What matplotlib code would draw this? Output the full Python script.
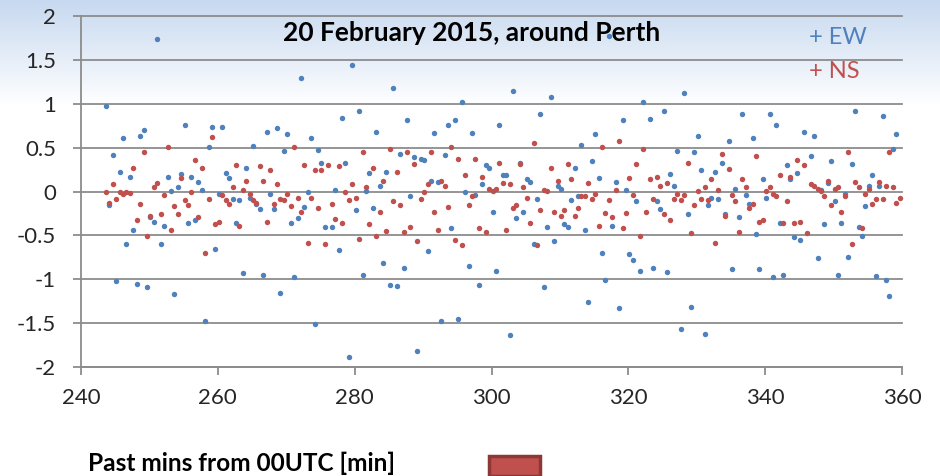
import numpy as np
import matplotlib
matplotlib.use("Agg")
import matplotlib.pyplot as plt
from matplotlib.patches import Rectangle

plt.rcParams["font.family"] = ["Lato", "DejaVu Sans"]
plt.rcParams["axes.unicode_minus"] = False

# Sampling: one reading every 30 s starting a little after 243.5 min past 00 UTC
START_MIN = 243.65
STEP_MIN = 0.5

nan = np.nan

# East-west component
ew = [
    0.975, -0.156, 0.415, -1.025, 0.225, 0.606, -0.6, 0.168, -0.434, -1.05,
    0.636, 0.697, -1.09, -0.29, -0.347, 1.737, -0.6, -0.39, 0.168, 0.004,
    -1.17, 0.05, 0.2, 0.754, -0.36, 0.168, -0.33, 0.107, 0.019, -1.478,
    0.507, 0.739, -0.655, -0.023, 0.739, 0.213, 0.152, -0.084, -0.362, -0.099,
    -0.933, 0.27, -0.069, 0.518, -0.14, -0.198, -0.949, 0.682, -0.023, -0.198,
    0.724, -1.154, 0.461, 0.651, -0.362, -0.975, -0.3, 1.295, -0.171, -0.011,
    0.606, -1.505, 0.476, 0.328, -0.404, nan, -0.404, 0.019, -0.667, 0.842,
    0.328, -1.886, 1.444, -0.213, 0.914, -0.949, 0.004, 0.213, -0.183, 0.682,
    0.065, -0.815, 0.225, -1.067, 1.181, -1.08, 0.43, -0.872, 0.811, -0.053,
    0.389, -1.813, 0.373, 0.358, -0.682, 0.122, 0.667, 0.107, -1.478, 0.415,
    0.754, -0.419, 0.811, -1.448, 1.017, -0.008, -0.846, 0.667, -0.038, -1.067,
    0.08, 0.301, 0.27, -0.229, -0.903, 0.754, 0.183, 0.183, -1.638, 1.15,
    -0.3, 0.328, -0.229, 0.137, 0.107, -0.598, -0.084, 0.888, -1.093, -0.404,
    1.078, -0.568, 0.065, 0.034, -0.373, -0.404, -0.095, 0.27, -0.053, 0.533,
    -0.434, -1.257, 0.343, 0.651, 0.152, -0.70, -1.006, 1.768, -0.389, 0.107,
    -1.33, 0.811, 0.019, -0.712, -0.785, -0.11, -0.903, 1.017, nan, 0.827,
    -0.872, -0.11, -0.198, 0.914, -0.918, 0.198, 0.065, 0.461, -1.566, 1.12,
    -0.259, -1.314, 0.446, 0.636, 0.24, -1.623, -0.156, -0.069, 0.225, -0.084,
    0.328, -0.259, 0.579, -0.888, 0.034, -0.286, 0.884, -0.038, -0.14, 0.606,
    -0.49, -0.888, 0.137, -0.069, 0.884, -0.975, 0.754, -0.362, -0.949, 0.301,
    0.137, -0.522, 0.21, -0.549, 0.682, nan, 0.404, 0.636, -0.758, 0.019,
    -0.373, 0.095, 0.343, -0.11, -0.949, -0.362, -0.023, -0.743, 0.316, 0.914,
    -0.404, -0.507, -0.168, 0.065, 0.183, -0.964, 0.065, 0.857, -1.006, -1.196,
    0.488, 0.651, nan,
]

# North-south component
ns = [
    0.0, -0.126, 0.08, -0.084, -0.008, -0.034, 0.0, -0.02, 0.27, -0.33,
    -0.14, 0.446, -0.51, -0.274, 0.053, 0.095, -0.255, -0.038, 0.507, -0.434,
    -0.168, -0.255, 0.152, -0.095, -0.152, 0.0, 0.358, -0.286, 0.27, -0.70,
    -0.084, 0.621, -0.373, -0.347, -0.038, -0.099, -0.14, 0.05, 0.301, -0.389,
    0.019, 0.122, -0.023, -0.095, -0.126, 0.286, 0.122, -0.347, 0.24, -0.14,
    0.08, -0.084, -0.095, -0.023, -0.168, 0.507, -0.069, -0.229, 0.301, -0.583,
    -0.069, 0.24, -0.183, 0.24, -0.598, 0.301, -0.14, -0.316, 0.286, -0.362,
    -0.011, -0.095, 0.08, -0.069, -0.537, 0.446, 0.05, -0.373, 0.27, -0.51,
    -0.229, 0.122, -0.45, 0.488, -0.11, 0.225, -0.156, -0.461, 0.446, -0.404,
    0.316, -0.568, -0.084, -0.008, 0.08, 0.446, -0.229, -0.434, 0.122, 0.065,
    -0.171, 0.507, -0.549, 0.373, -0.61, 0.183, -0.156, -0.053, 0.373, -0.419,
    0.168, -0.461, 0.034, 0.004, 0.034, 0.328, 0.095, -0.434, 0.08, -0.183,
    -0.156, 0.316, 0.05, -0.069, -0.362, 0.549, -0.61, -0.213, 0.019, 0.004,
    0.27, -0.229, 0.122, -0.274, -0.213, 0.316, 0.137, -0.274, -0.183, -0.053,
    -0.053, 0.095, -0.084, -0.023, -0.389, 0.507, -0.244, -0.095, -0.286, 0.019,
    0.575, -0.419, -0.244, 0.152, -0.038, 0.312, -0.51, 0.488, -0.229, 0.137,
    -0.084, 0.168, 0.065, -0.259, 0.095, -0.33, -0.084, -0.023, -0.095, -0.038,
    0.328, -0.476, -0.156, 0.004, -0.084, 0.05, -0.095, 0.137, -0.583, 0.019,
    0.43, -0.274, 0.255, -0.038, -0.11, -0.465, 0.137, 0.05, -0.183, -0.14,
    0.4, -0.347, -0.33, 0.004, 0.05, -0.023, -0.053, 0.183, -0.362, -0.11,
    0.168, -0.362, 0.358, -0.347, 0.301, -0.476, 0.08, 0.065, 0.034, 0.004,
    -0.053, 0.122, -0.156, 0.034, 0.05, -0.229, -0.053, 0.446, -0.598, 0.107,
    0.05, -0.419, -0.023, 0.034, -0.14, -0.084, 0.107, -0.084, 0.065, 0.446,
    0.05, -0.126, -0.069,
]

x_ticks = [240, 260, 280, 300, 320, 340, 360]
y_ticks = [-2, -1.5, -1, -0.5, 0, 0.5, 1, 1.5, 2]
y_tick_labels = ["-2", "-1.5", "-1", "-0.5", "0", "0.5", "1", "1.5", "2"]

title = "20 February 2015, around Perth"
x_label = "Past mins from 00UTC [min]"

EW_COLOR = "#4f81bd"
NS_COLOR = "#c0504d"
GRID_COLOR = "#8c8c8c"
TEXT_COLOR = "#262626"

W, H = 940, 476
fig = plt.figure(figsize=(W / 100, H / 100), dpi=100)

# soft blue-to-white wash across the top of the chart
bg = fig.add_axes([0, 0, 1, 1], zorder=-10)
rows = np.arange(H)
frac = np.clip(rows / 105.0, 0, 1)[:, None]
top_rgb = np.array([0.78, 0.85, 0.94])
col = top_rgb[None, :] * (1 - frac) + 1.0 * frac
bg.imshow(np.repeat(col[:, None, :], 2, axis=1), aspect="auto",
          extent=[0, 1, 0, 1], origin="upper", interpolation="bilinear")
bg.axis("off")

L, R, T, B = 81, 902, 16, 367
ax = fig.add_axes([L / W, 1 - B / H, (R - L) / W, (B - T) / H])
ax.patch.set_alpha(0)

n = len(ew)
minutes = START_MIN + STEP_MIN * np.arange(n)
ax.plot(minutes, ew, linestyle="none", marker="o", markersize=3.9,
        markeredgewidth=0, color=EW_COLOR, zorder=3, clip_on=False)
ax.plot(minutes[:len(ns)], ns, linestyle="none", marker="o", markersize=3.9,
        markeredgewidth=0, color=NS_COLOR, zorder=4, clip_on=False)

ax.set_xlim(240, 360)
ax.set_ylim(-2, 2)
ax.set_xticks(x_ticks)
ax.set_xticklabels([str(v) for v in x_ticks])
ax.set_yticks(y_ticks)
ax.set_yticklabels(y_tick_labels)

for yv in y_ticks:
    ax.axhline(yv, color=GRID_COLOR, linewidth=1.3, zorder=1, clip_on=False)

for side in ("top", "right"):
    ax.spines[side].set_visible(False)
ax.spines["left"].set_color(GRID_COLOR)
ax.spines["left"].set_linewidth(1.3)
ax.spines["bottom"].set_color(GRID_COLOR)
ax.spines["bottom"].set_linewidth(1.3)

ax.tick_params(axis="both", direction="out", length=6, width=1.3,
               color=GRID_COLOR, labelcolor=TEXT_COLOR, labelsize=16)
ax.tick_params(axis="y", pad=12)
ax.tick_params(axis="x", pad=9)

fig.text(472 / W, 1 - 33 / H, title, ha="center", va="center",
         fontsize=19, fontweight="bold", color="#000000")
fig.text(809 / W, 1 - 37 / H, "+ EW", ha="left", va="center",
         fontsize=17, color=EW_COLOR)
fig.text(809 / W, 1 - 72 / H, "+ NS", ha="left", va="center",
         fontsize=17, color=NS_COLOR)

fig.text(88 / W, 1 - 463 / H, x_label, ha="left", va="center",
         fontsize=17.6, fontweight="bold", color="#000000")

# series swatch peeking in at the bottom edge
fig.patches.append(Rectangle((489 / W, 0), 51 / W, 20 / H,
                             transform=fig.transFigure, facecolor=NS_COLOR,
                             edgecolor="#8c3836", linewidth=2.5, zorder=5))

fig.savefig("out.png", dpi=100)
